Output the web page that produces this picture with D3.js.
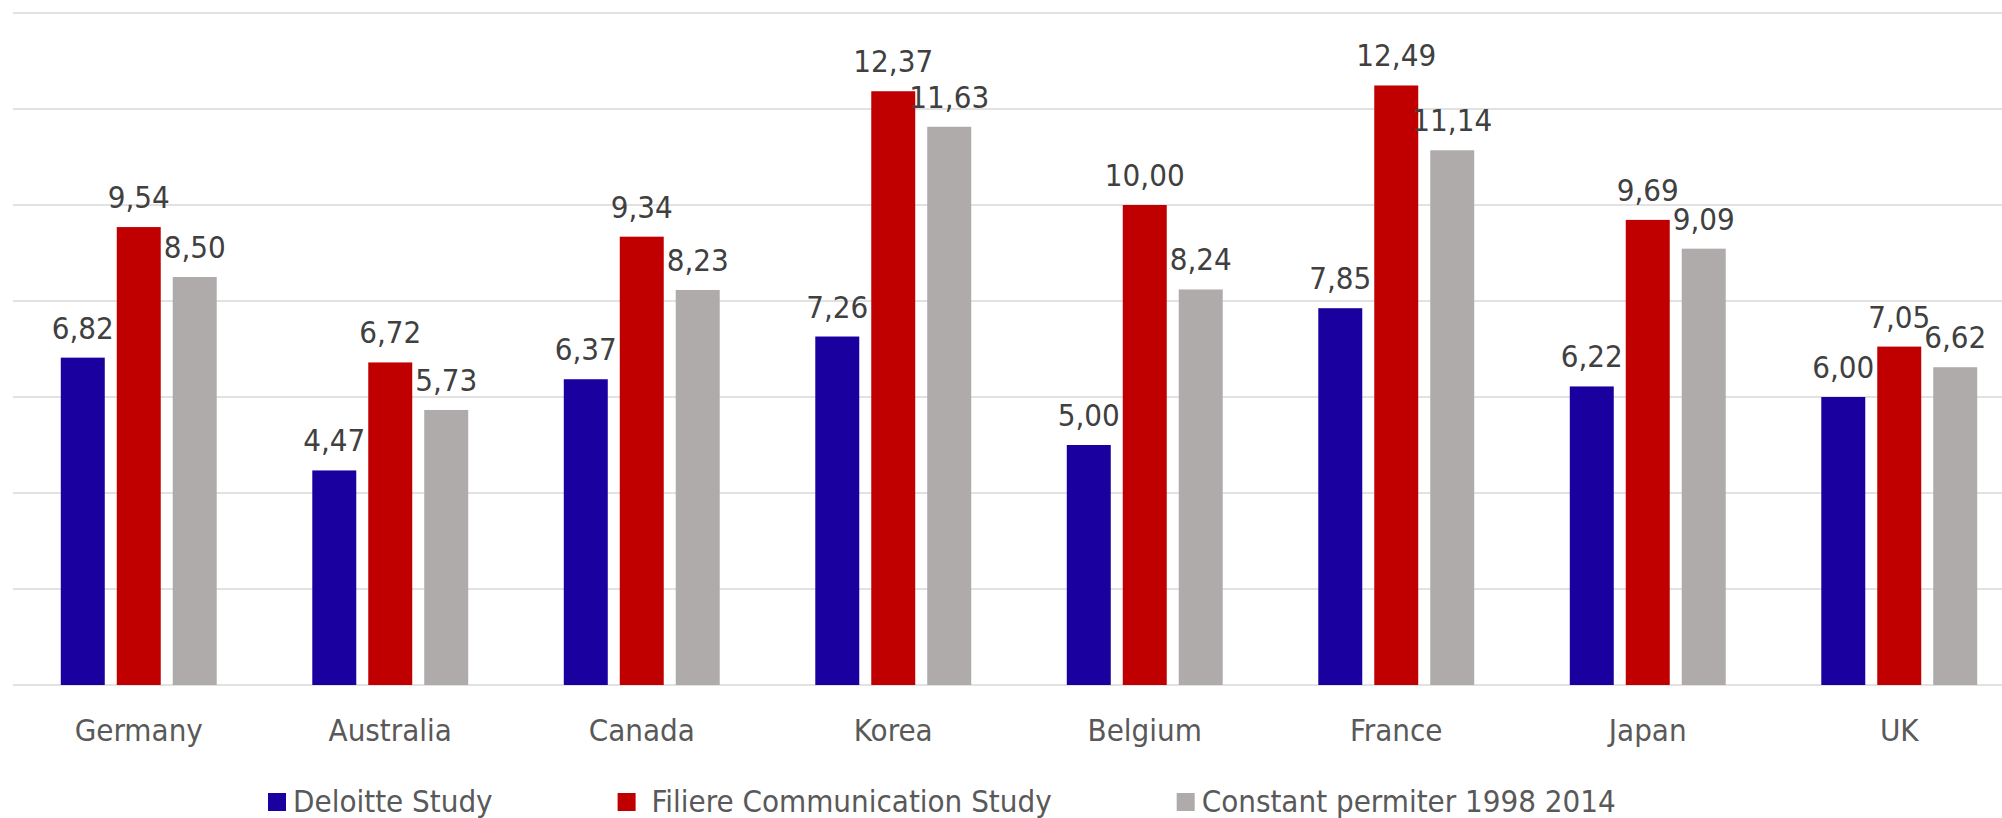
<!DOCTYPE html>
<html>
<head>
<meta charset="utf-8">
<script src="https://cdn.jsdelivr.net/npm/d3@7"></script>
<style>
  body { margin: 0; background: #fff; }
  svg { display: block; font-family: "DejaVu Sans Condensed", "DejaVu Sans", sans-serif; }
  .value { fill: #404040; font-size: 31px; text-anchor: middle; }
  .cat { fill: #595959; font-size: 31px; text-anchor: middle; }
  .legend text { fill: #595959; font-size: 31px; }
</style>
</head>
<body>
<div id="chart"></div>
<script>
const countries = ["Germany", "Australia", "Canada", "Korea", "Belgium", "France", "Japan", "UK"];
const seriesNames = ["Deloitte Study", " Filiere Communication Study", "Constant permiter 1998 2014"];
const deloitte = [6.82, 4.47, 6.37, 7.26, 5.00, 7.85, 6.22, 6.00];
const filiere = [9.54, 6.72, 9.34, 12.37, 10.00, 12.49, 9.69, 7.05];
const constant = [8.50, 5.73, 8.23, 11.63, 8.24, 11.14, 9.09, 6.62];
const yTicks = [0, 2, 4, 6, 8, 10, 12, 14];

const colors = ["#1b00a0", "#c00000", "#afabab"];
const allSeries = [deloitte, filiere, constant];

const width = 2002,
    height = 818,
    margin = { top: 13, left: 13, right: -23, bottom: 133 };

const data = countries.map((c, i) => ({
    country: c,
    values: allSeries.map((s, j) => ({ key: j, value: s[i] }))
}));

const x0 = d3.scaleBand()
    .domain(countries)
    .range([margin.left, width - margin.right])
    .paddingInner(0.38)
    .paddingOuter(0.19);

const x1 = d3.scaleBand()
    .domain([0, 1, 2])
    .range([0, x0.bandwidth()])
    .paddingInner(12 / 56);

const y = d3.scaleLinear()
    .domain([0, 14])
    .range([height - margin.bottom, margin.top]);

const fmt = d3.formatLocale({ decimal: ",", thousands: ".", grouping: [3], currency: ["", "€"] }).format(".2f");

const svg = d3.select("#chart")
    .append("svg")
    .attr("width", width)
    .attr("height", height);

// gridlines
svg.append("g")
    .selectAll("line")
    .data(yTicks)
    .join("line")
    .attr("x1", margin.left)
    .attr("x2", width - margin.right)
    .attr("y1", d => y(d))
    .attr("y2", d => y(d))
    .attr("stroke", "#d9d9d9")
    .attr("stroke-width", 1.5);

const groups = svg.append("g")
    .selectAll("g")
    .data(data)
    .join("g")
    .attr("transform", d => `translate(${x0(d.country)},0)`);

groups.selectAll("rect")
    .data(d => d.values)
    .join("rect")
    .attr("x", d => x1(d.key))
    .attr("y", d => y(d.value))
    .attr("width", x1.bandwidth())
    .attr("height", d => y(0) - y(d.value))
    .attr("fill", d => colors[d.key]);

groups.selectAll("text")
    .data(d => d.values)
    .join("text")
    .attr("class", "value")
    .attr("x", d => x1(d.key) + x1.bandwidth() / 2)
    .attr("y", d => y(d.value) - 19)
    .text(d => fmt(d.value));

// category labels
svg.append("g")
    .selectAll("text")
    .data(countries)
    .join("text")
    .attr("class", "cat")
    .attr("x", d => x0(d) + x0.bandwidth() / 2)
    .attr("y", y(0) + 56)
    .text(d => d);

// legend
const legend = svg.append("g").attr("class", "legend");
let lx = 268;
seriesNames.forEach((name, i) => {
    legend.append("rect")
        .attr("x", lx)
        .attr("y", 793)
        .attr("width", 18)
        .attr("height", 18)
        .attr("fill", colors[i]);
    const t = legend.append("text")
        .attr("x", lx + 25)
        .attr("y", 812)
        .attr("xml:space", "preserve")
        .style("white-space", "pre")
        .text(name);
    lx += 25 + t.node().getComputedTextLength() + 125;
});
</script>
</body>
</html>
